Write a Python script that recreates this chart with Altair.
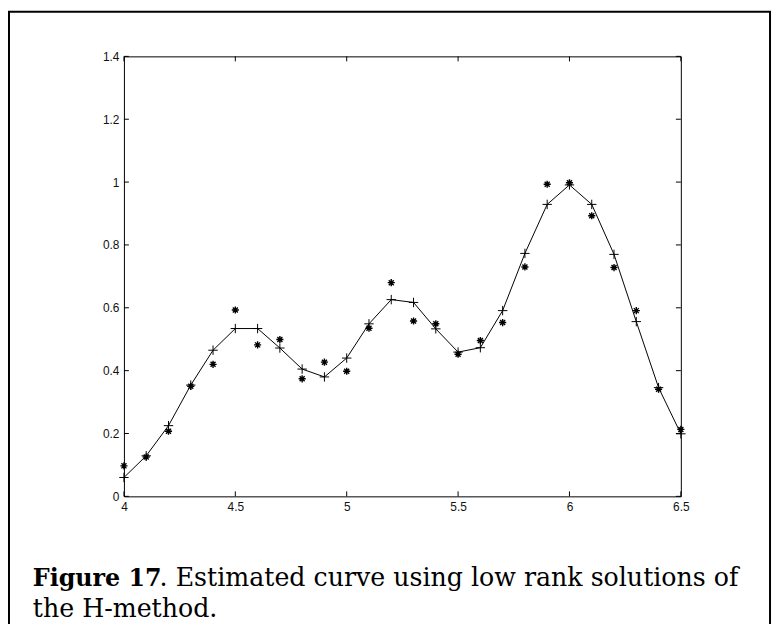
import altair as alt
import pandas as pd

# ---- data ----
x_vals = [4.0, 4.1, 4.2, 4.3, 4.4, 4.5, 4.6, 4.7, 4.8, 4.9,
          5.0, 5.1, 5.2, 5.3, 5.4, 5.5, 5.6, 5.7, 5.8, 5.9,
          6.0, 6.1, 6.2, 6.3, 6.4, 6.5]
fit_vals = [0.060, 0.129, 0.225, 0.354, 0.465, 0.534, 0.534, 0.472, 0.405, 0.380,
            0.440, 0.549, 0.626, 0.617, 0.533, 0.459, 0.473, 0.591, 0.773, 0.929,
            0.991, 0.929, 0.770, 0.556, 0.346, 0.199]
data_vals = [0.097, 0.125, 0.207, 0.350, 0.420, 0.593, 0.482, 0.499, 0.374, 0.427,
             0.398, 0.535, 0.680, 0.558, 0.549, 0.452, 0.496, 0.553, 0.730, 0.993,
             0.998, 0.893, 0.728, 0.591, 0.341, 0.213]
x_ticks = [4, 4.5, 5, 5.5, 6, 6.5]
y_ticks = [0, 0.2, 0.4, 0.6, 0.8, 1.0, 1.2, 1.4]
caption_bold = "Figure 17"
caption_rest = ". Estimated curve using low rank solutions of"
caption_line2 = "the H-method."

W, H = 562, 444

fit_df = pd.DataFrame({"x": x_vals, "y": fit_vals})
data_df = pd.DataFrame({"x": x_vals, "y": data_vals})
xt_df = pd.DataFrame({"x": x_ticks})
yt_df = pd.DataFrame({"y": y_ticks})
one_df = pd.DataFrame({"k": [0]})

xs = alt.Scale(domain=[4, 6.5], nice=False, zero=False)
ys = alt.Scale(domain=[0, 1.4], nice=False, zero=False)

x_axis = alt.Axis(values=x_ticks, labelExpr="format(datum.value, '~g')", ticks=False,
                  domain=False, grid=False, labelPadding=5, labelFlush=False,
                  labelOverlap=False, title=None)
y_axis = alt.Axis(values=y_ticks, labelExpr="format(datum.value, '~g')", ticks=False,
                  domain=False, grid=False, labelPadding=5, labelFlush=False,
                  labelOverlap=False, title=None)

X = alt.X("x:Q", scale=xs, axis=x_axis)
Y = alt.Y("y:Q", scale=ys, axis=y_axis)

line = alt.Chart(fit_df).mark_line(color="black", strokeWidth=1).encode(x=X, y=Y)

plus = alt.Chart(fit_df).mark_point(
    shape="M-1,0L1,0M0,-1L0,1", size=90, filled=False, stroke="black",
    strokeWidth=1, opacity=1
).encode(x=X, y=Y)

star = alt.Chart(data_df).mark_point(
    shape="M-1,0L1,0M0,-1L0,1M-0.7,-0.7L0.7,0.7M-0.7,0.7L0.7,-0.7",
    size=52, filled=False, stroke="black", strokeWidth=1.4, opacity=1
).encode(x=X, y=Y)

tick_len = 5
bottom_ticks = alt.Chart(xt_df).mark_rule(color="black", strokeWidth=1).encode(
    x=X, y=alt.value(H), y2=alt.value(H - tick_len))
top_ticks = alt.Chart(xt_df).mark_rule(color="black", strokeWidth=1).encode(
    x=X, y=alt.value(0), y2=alt.value(tick_len))
left_ticks = alt.Chart(yt_df).mark_rule(color="black", strokeWidth=1).encode(
    y=Y, x=alt.value(0), x2=alt.value(tick_len))
right_ticks = alt.Chart(yt_df).mark_rule(color="black", strokeWidth=1).encode(
    y=Y, x=alt.value(W), x2=alt.value(W - tick_len))

border = alt.Chart(one_df).mark_rect(fillOpacity=0, stroke="black", strokeWidth=2).encode(
    x=alt.value(-116), x2=alt.value(652), y=alt.value(-45), y2=alt.value(640))

cap1 = alt.Chart(one_df).mark_text(
    text=caption_bold, font="DejaVu Serif", fontSize=24, fontWeight="bold",
    align="left", baseline="alphabetic", color="black"
).encode(x=alt.value(-92), y=alt.value(534))
cap2 = alt.Chart(one_df).mark_text(
    text=caption_rest, font="DejaVu Serif", fontSize=25.5, fontWeight="normal",
    align="left", baseline="alphabetic", color="black"
).encode(x=alt.value(36), y=alt.value(534))
cap3 = alt.Chart(one_df).mark_text(
    text=caption_line2, font="DejaVu Serif", fontSize=25.5, fontWeight="normal",
    align="left", baseline="alphabetic", color="black"
).encode(x=alt.value(-92), y=alt.value(566))

chart = alt.layer(
    border, line, plus, star, bottom_ticks, top_ticks, left_ticks, right_ticks,
    cap1, cap2, cap3
).properties(
    width=W, height=H,
    padding={"left": 117, "top": 46, "right": 93, "bottom": 126},
    autosize=alt.AutoSizeParams(type="none"),
).configure_view(
    stroke="black", strokeWidth=1
).configure_axis(
    labelFont="Liberation Sans", labelFontSize=12, labelColor="#111111"
)

chart.save("out.html", embed_options={"renderer": "svg", "actions": False})
